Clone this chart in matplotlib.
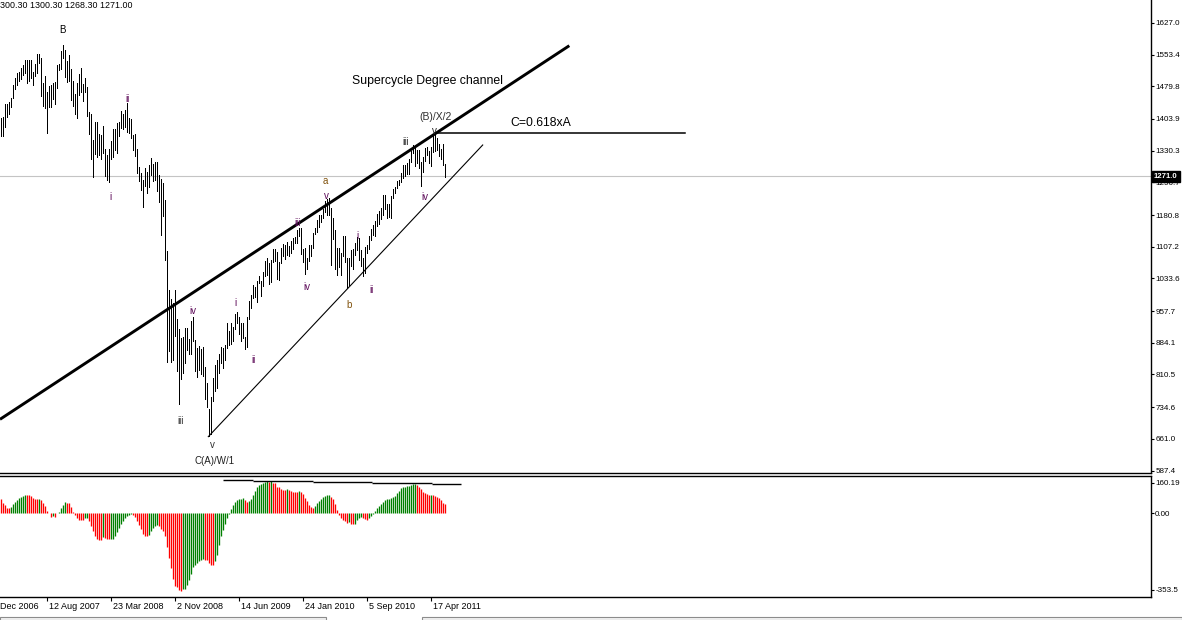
import matplotlib
matplotlib.use("Agg")
import matplotlib.pyplot as plt
from matplotlib.patches import Rectangle
from matplotlib.transforms import blended_transform_factory
import numpy as np

# weekly bars, week of 5 Mar 2007 .. week of 6 Jun 2011
highs = [
    # 2007
    1407, 1409, 1437.7, 1438, 1444, 1452, 1484, 1498, 1510, 1513, 1523, 1529,
    1540, 1540, 1540, 1540, 1514, 1531, 1556, 1555.9, 1545, 1488, 1503, 1466,
    1481, 1482, 1487, 1489, 1530, 1531, 1561, 1576, 1564, 1538, 1552, 1520,
    1492, 1463, 1488, 1508, 1523, 1485, 1498, 1478,
    # 2008
    1420, 1416, 1354, 1396, 1396, 1368, 1367, 1388, 1335, 1321, 1335, 1352,
    1381, 1380, 1395, 1398, 1422, 1416, 1425, 1440.2, 1406, 1404, 1367, 1370,
    1335, 1292, 1279, 1262, 1291, 1280, 1297, 1313, 1300, 1304, 1303, 1274,
    1265, 1255, 1215, 1097, 1006, 985, 977, 1007.5, 940, 917, 896, 898,
    918, 918, 892, 934,
    # 2009
    943.8, 890, 871, 877, 870, 875, 827, 790, 730, 758, 803, 832,
    845, 857, 875, 872, 878, 930, 911, 930, 920, 951, 956, 945,
    931, 930, 898, 943, 980, 996, 1018, 1013, 1027, 1039, 1028, 1048,
    1074, 1080, 1069, 1076, 1101, 1101.4, 1094, 1072, 1105, 1113, 1112, 1119,
    1110, 1120, 1128, 1130,
    # 2010
    1145, 1150.4, 1150, 1103, 1104, 1080, 1112, 1112, 1139, 1150, 1169, 1180,
    1181, 1195, 1213.9, 1217.6, 1219.8, 1196, 1173, 1147, 1104, 1105, 1092, 1131,
    1131.2, 1080, 1080, 1100, 1103, 1115, 1129.2, 1127, 1100, 1082, 1106, 1111,
    1131, 1148, 1158, 1167, 1184, 1190, 1196, 1227, 1227, 1207, 1206, 1226,
    1241, 1246, 1259, 1262,
    # 2011
    1278, 1296, 1297, 1302, 1311, 1330, 1344, 1339, 1333, 1331, 1304, 1315,
    1337, 1339, 1329, 1338, 1364, 1370.6, 1359, 1346, 1334, 1345, 1300.3,
]
lows = [
    # 2007
    1364, 1364, 1386, 1409, 1416, 1431, 1452, 1474, 1482, 1491, 1497, 1505,
    1510, 1487, 1492, 1500, 1484, 1503, 1510, 1533, 1458, 1433, 1429, 1370.6,
    1432, 1432, 1451, 1439, 1476, 1518, 1521, 1546, 1500.6, 1489, 1492, 1448,
    1435, 1415, 1406, 1460, 1467, 1446, 1467, 1411,
    # 2008
    1370, 1312, 1270, 1322, 1316, 1320, 1312, 1326, 1272, 1263, 1257, 1312,
    1315, 1332, 1324, 1365, 1383, 1380, 1386, 1373, 1371, 1359, 1332, 1317,
    1278, 1260, 1238, 1200.4, 1248, 1233, 1247, 1273, 1261, 1263, 1236, 1210,
    1133.5, 1179, 1077.5, 839.8, 865.8, 839.4, 845, 899.7, 818.7, 741, 799, 815,
    837, 867, 857, 857,
    # 2009
    889, 818, 804, 821, 812, 808, 754, 734, 666.8, 672, 750, 772,
    779, 814, 836, 826, 843, 873, 879, 882, 888, 917, 929, 904,
    888, 896, 869, 875, 940, 965, 988, 990, 978, 1022, 992, 1016,
    1040, 1041, 1020, 1025, 1072, 1074, 1033, 1029, 1069, 1086, 1079, 1088,
    1086, 1093, 1102, 1115,
    # 2010
    1116, 1131, 1090, 1071, 1044.5, 1056, 1075, 1086, 1105, 1137, 1141, 1152,
    1165, 1175, 1187, 1180, 1181, 1065.8, 1126, 1055.9, 1040.8, 1060, 1042, 1085,
    1071, 1010.9, 1018, 1062, 1056, 1087, 1100, 1076, 1063, 1039.7, 1047, 1092,
    1101, 1122, 1134, 1133, 1155, 1159, 1171, 1180, 1194, 1173, 1176, 1173,
    1220, 1232, 1243, 1251,
    # 2011
    1257, 1266, 1271, 1275, 1276, 1305, 1324, 1294, 1302, 1291, 1249, 1280,
    1306, 1321, 1302, 1294, 1327, 1330, 1332, 1318, 1311, 1297, 1268.3,
]
last_close = 1271.0
header = "300.30 1300.30 1268.30 1271.00"

# oscillator histogram
osc = [
    61, 44, 35, 23, 22, 27, 40, 48, 57, 65, 69, 74, 78, 77, 76, 74, 65, 61, 60, 61,
    57, 44, 31, 10, 1, -14, -10, -14, 0, 6, 23, 35, 48, 44, 43, 27, 6, -7, -20, -28,
    -28.5, -29, -20, -19, -33, -54, -75, -96, -109, -113, -114, -100, -105, -109, -110, -109, -108, -96, -79, -62,
    -45, -33, -20, -11, -7, -3, -7, -16, -33, -50, -67, -88, -96, -97, -92, -75, -62, -54, -50, -54,
    -67, -75, -96, -143, -190, -232, -279, -308, -313, -325, -327, -321, -320, -304, -283, -258, -228, -219, -211, -202,
    -198, -194, -198, -199, -211, -219, -220, -202, -177, -134, -96, -71, -45, -20, -2, 18, 35, 48, 57, 61,
    62, 65, 57, 48, 52, 61, 78, 95, 112, 120, 125, 129, 133, 137, 131, 138, 129, 127, 112, 111,
    103, 99, 98, 103, 99, 95, 91, 90, 89, 95, 91, 82, 65, 52, 35, 27, 23, 31, 44, 52,
    61, 69, 74, 78, 79, 69, 61, 40, 14, -7, -20, -28, -33, -41, -37, -45, -46, -44, -28, -20,
    -16, -20, -24, -28, -20, -11, -2, 10, 23, 31, 40, 48, 57, 61, 62, 65, 69, 74, 86, 95,
    108, 112, 113, 116, 117, 120, 125, 126, 120, 112, 103, 91, 86, 82, 78, 79, 78, 74, 69, 65,
    57, 44, 40,
]
osc_max_label, osc_min_label = 160.19, -353.5

price_ticks = [1627.0, 1553.4, 1479.8, 1403.9, 1330.3, 1256.7, 1180.8, 1107.2,
               1033.6, 957.7, 884.1, 810.5, 734.6, 661.0, 587.4]
date_ticks = [23, 55, 87, 119, 151, 183, 215]
date_labels = ["12 Aug 2007", "23 Mar 2008", "2 Nov 2008",
               "14 Jun 2009", "24 Jan 2010", "5 Sep 2010", "17 Apr 2011"]
first_label = "Dec 2006"

# wave labels: (text, bar index, price, colour)
purple = "#5e0c5a"
brown = "#80520c"
wave_labels = [
    ("B", 30.4, 1611, "black"),
    ("i", 54.4, 1223, purple),
    ("ii", 62.9, 1450, purple),
    ("iii", 89.4, 702, "#303030"),
    ("iv", 95.9, 958, purple),
    ("v", 105.4, 647, "#303030"),
    ("C(A)/W/1", 106.4, 610, "#202020"),
    ("i", 116.9, 977, purple),
    ("ii", 125.9, 844, purple),
    ("iii", 147.9, 1162, purple),
    ("iv", 152.9, 1014, purple),
    ("a", 161.9, 1260, brown),
    ("v", 162.4, 1225, purple),
    ("b", 173.9, 972, brown),
    ("i", 177.9, 1132, purple),
    ("ii", 184.9, 1007, purple),
    ("iii", 201.9, 1350, "#202020"),
    ("iv", 211.9, 1223, purple),
    ("v", 216.4, 1376, "#202020"),
]

plt.rcParams["font.family"] = ["Liberation Sans", "DejaVu Sans"]

W, H = 1182, 620
fig = plt.figure(figsize=(W / 100, H / 100), dpi=100)
fig.patch.set_facecolor("white")

ax = fig.add_axes([0, (H - 473) / H, 1151 / W, 473 / H])
axo = fig.add_axes([0, (H - 597) / H, 1151 / W, (597 - 475.5) / H])

xlim = (-0.65, 574.85)
n = len(highs)
x = np.arange(n)

# ---- price panel
ax.axhline(last_close, color="#c4c4c4", lw=0.8, zorder=0)
ax.vlines(x, lows, highs, color="black", lw=0.5, antialiased=False, zorder=2)

# channel lines
ax.plot([-0.65, 284.0], [706.3, 1574.2], color="black", lw=2.1, zorder=3,
        solid_capstyle="butt")
ax.plot([103.5, 240.7], [666.0, 1343.5], color="black", lw=0.8, zorder=3)
ax.plot([217, 341.9], [1370.6, 1370.6], color="black", lw=1.1, zorder=3)

for txt, xi, yp, col in wave_labels:
    ax.text(xi, yp, txt, color=col, fontsize=7, ha="center", va="center", zorder=4)
ax.text(216.9, 1408.5, "(B)/X/2", fontsize=7.5, color="#303030", ha="center", va="center")
ax.text(212.9, 1492, "Supercycle Degree channel", fontsize=8.8, ha="center", va="center")
ax.text(269.9, 1394.6, "C=0.618xA", fontsize=8.8, ha="center", va="center")

ax.set_xlim(*xlim)
ax.set_ylim(581.6, 1680.3)
for s in ("left", "top"):
    ax.spines[s].set_visible(False)
ax.spines["right"].set_linewidth(1.0)
ax.spines["bottom"].set_linewidth(1.0)
ax.set_xticks([])
ax.yaxis.tick_right()
ax.set_yticks(price_ticks)
ax.set_yticklabels([f"{p:.1f}" for p in price_ticks])
ax.tick_params(axis="y", direction="out", length=2, width=0.8, pad=1, labelsize=5.8)

trans = blended_transform_factory(ax.transAxes, ax.transData)
ax.text(1.0 + 3 / 1151, last_close, f"{last_close:.1f}", transform=trans,
        color="white", fontsize=5.6, fontweight="bold", ha="left", va="center",
        clip_on=False, zorder=6,
        bbox=dict(boxstyle="square,pad=0.25", facecolor="black", edgecolor="black"))

# ---- oscillator panel
osc_arr = np.array(osc, dtype=float)
cols = ["#ff0000"] + ["#008000" if osc_arr[i] > osc_arr[i - 1] else "#ff0000"
                      for i in range(1, len(osc_arr))]
axo.vlines(np.arange(len(osc_arr)), 0, osc_arr, colors=cols, lw=0.95)

# trend line over the oscillator peaks
seg_x = [110.9, 125.9, 155.9, 185.4, 215.4, 229.9]
seg_y = [140.1, 135.9, 131.6, 127.4, 123.1]
axo.hlines(seg_y, seg_x[:-1], seg_x[1:], color="black", lw=1.0)

axo.set_xlim(*xlim)
axo.set_ylim(-353.54, osc_max_label)
axo.spines["left"].set_visible(False)
for s in ("top", "bottom", "right"):
    axo.spines[s].set_linewidth(1.0)
axo.yaxis.tick_right()
axo.set_yticks([128.5, 0, -323])
axo.set_yticklabels([f"{osc_max_label:.2f}", "0.00", f"{osc_min_label:.1f}"])
axo.tick_params(axis="y", direction="out", length=2, width=0.8, pad=1, labelsize=5.8)
axo.set_xticks(date_ticks)
axo.set_xticklabels([])
axo.tick_params(axis="x", direction="out", length=3, width=0.8)

tx = blended_transform_factory(axo.transData, axo.transAxes)
for xi, lab in zip(date_ticks, date_labels):
    axo.text(xi + 0.7, -0.078, lab, transform=tx, fontsize=6.5, ha="left",
             va="center", clip_on=False)
axo.text(-0.6, -0.078, first_label, transform=tx, fontsize=6.5, ha="left",
         va="center", clip_on=False)

# header and bottom tabs
fig.text(0, 1 - 6 / H, header, fontsize=6.4, ha="left", va="center")
fig.patches.append(Rectangle((0, 0), 326 / W, 3.5 / H, transform=fig.transFigure,
                             facecolor="#f2f2f2", edgecolor="#8c8c8c", lw=0.8))
fig.patches.append(Rectangle((422 / W, 0), 1 - 422 / W, 3.5 / H, transform=fig.transFigure,
                             facecolor="#f2f2f2", edgecolor="#8c8c8c", lw=0.8))

fig.savefig("out.png", dpi=100)
